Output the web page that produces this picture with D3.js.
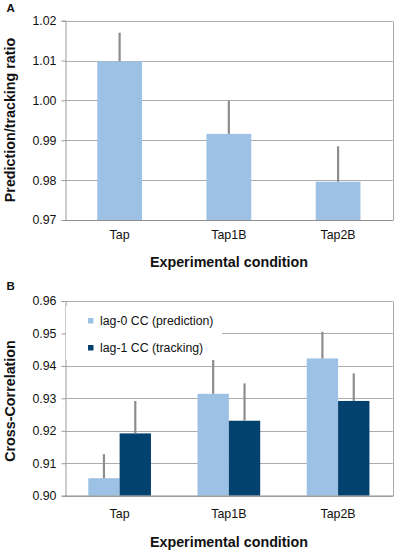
<!DOCTYPE html>
<html>
<head>
<meta charset="utf-8">
<script src="https://cdn.jsdelivr.net/npm/d3@7"></script>
<style>
  body { margin: 0; background: #fff; }
  svg { display: block; font-family: "Liberation Sans", Arial, Helvetica, sans-serif; }
</style>
</head>
<body>
<div id="chart"></div>
<script>
// datos
const categorias = ["Tap", "Tap1B", "Tap2B"];

// panel A
const ratioMedia = [1.0098, 0.9916, 0.9796];
const ratioError = [0.0072, 0.0083, 0.0089];
const ticksA = [0.97, 0.98, 0.99, 1.00, 1.01, 1.02];

// panel B
const series = ["lag-0 CC (prediction)", "lag-1 CC (tracking)"];
const lag0Media = [0.9054, 0.9314, 0.9423];
const lag0Error = [0.0074, 0.0104, 0.0082];
const lag1Media = [0.9192, 0.9231, 0.9292];
const lag1Error = [0.0100, 0.0115, 0.0085];
const ticksB = [0.90, 0.91, 0.92, 0.93, 0.94, 0.95, 0.96];

const colores = ["#9dc1e4", "#03426f"];
const grisError = "#8c8c8c";

const width = 397, height = 553;
const svg = d3.select("#chart").append("svg")
  .attr("width", width)
  .attr("height", height);

const x = d3.scaleBand().domain(categorias).range([65, 392.7]).padding(0);

function dibujarMarco(y, ticks, fmt) {
  const g = svg.append("g");
  const [x0, x1] = x.range();
  // rejilla
  g.selectAll(".grid")
    .data(ticks)
    .enter()
    .append("line")
    .attr("x1", x0).attr("x2", x1)
    .attr("y1", d => Math.round(y(d)) + 0.5)
    .attr("y2", d => Math.round(y(d)) + 0.5)
    .style("stroke", "#acacac");
  // borde
  const yTop = Math.round(y(ticks[ticks.length - 1])) + 0.5;
  const yBot = Math.round(y(ticks[0])) + 0.5;
  g.append("line").attr("x1", Math.round(x1) + 0.5).attr("x2", Math.round(x1) + 0.5)
    .attr("y1", yTop).attr("y2", yBot).style("stroke", "#a8a8a8");
  // eje y
  const eje = svg.append("g")
    .attr("transform", `translate(${Math.round(x0) + 0.5},0)`)
    .call(d3.axisLeft(y).tickValues(ticks).tickFormat(fmt).tickSize(4).tickPadding(5));
  eje.select(".domain").style("stroke", "#9a9a9a");
  eje.selectAll(".tick line").style("stroke", "#9a9a9a");
  eje.selectAll(".tick text")
    .style("font-family", "'Liberation Sans', Arial, sans-serif")
    .style("font-size", "12.4px")
    .style("fill", "#111");
  return g;
}

function etiquetasX(yBase, yTitulo) {
  svg.selectAll(null)
    .data(categorias)
    .enter()
    .append("text")
    .attr("x", d => x(d) + x.bandwidth() / 2)
    .attr("y", yBase)
    .attr("text-anchor", "middle")
    .style("font-size", "12.4px")
    .style("fill", "#111")
    .text(d => d);
  svg.append("text")
    .attr("x", 229)
    .attr("y", yTitulo)
    .attr("text-anchor", "middle")
    .style("font-size", "14.3px")
    .style("font-weight", "bold")
    .style("fill", "#111")
    .text("Experimental condition");
}

function tituloY(texto, cy) {
  svg.append("text")
    .attr("transform", `translate(14.5,${cy}) rotate(-90)`)
    .attr("text-anchor", "middle")
    .style("font-size", "14.3px")
    .style("font-weight", "bold")
    .style("fill", "#111")
    .text(texto);
}

function letra(l, yy) {
  svg.append("text")
    .attr("x", 6.5).attr("y", yy)
    .style("font-size", "11.5px")
    .style("font-weight", "bold")
    .style("fill", "#111")
    .text(l);
}

// ---------- Panel A ----------
const yA = d3.scaleLinear().domain([0.97, 1.02]).range([220, 20.7]);
dibujarMarco(yA, ticksA, d3.format(".2f"));

const anchoA = x.bandwidth() * 0.41;
const datosA = categorias.map((c, i) => ({ cat: c, v: ratioMedia[i], e: ratioError[i] }));

svg.selectAll(".barA")
  .data(datosA)
  .enter()
  .append("rect")
  .attr("class", "barA")
  .attr("x", d => x(d.cat) + x.bandwidth() / 2 - anchoA / 2)
  .attr("width", anchoA)
  .attr("y", d => yA(d.v))
  .attr("height", d => yA(0.97) - yA(d.v))
  .style("fill", colores[0]);

svg.selectAll(".errA")
  .data(datosA)
  .enter()
  .append("line")
  .attr("x1", d => x(d.cat) + x.bandwidth() / 2)
  .attr("x2", d => x(d.cat) + x.bandwidth() / 2)
  .attr("y1", d => yA(d.v))
  .attr("y2", d => yA(d.v + d.e))
  .style("stroke", grisError)
  .style("stroke-width", 2.2);

// linea base
svg.append("line").attr("x1", 65).attr("x2", 393).attr("y1", 220.5).attr("y2", 220.5).style("stroke", "#8e8e8e");

etiquetasX(239, 266.5);
tituloY("Prediction/tracking ratio", 120);
letra("A", 12);

// ---------- Panel B ----------
const yB = d3.scaleLinear().domain([0.90, 0.96]).range([495.7, 301]);
dibujarMarco(yB, ticksB, d3.format(".2f"));

const xSub = d3.scaleBand().domain([0, 1]).range([0, x.bandwidth() * 0.574]).padding(0);
const offB = x.bandwidth() / 2 - x.bandwidth() * 0.574 / 2;
const mediasB = [lag0Media, lag1Media];
const erroresB = [lag0Error, lag1Error];
const datosB = [];
categorias.forEach((c, i) => {
  [0, 1].forEach(s => datosB.push({ cat: c, s: s, v: mediasB[s][i], e: erroresB[s][i] }));
});

svg.selectAll(".barB")
  .data(datosB)
  .enter()
  .append("rect")
  .attr("class", "barB")
  .attr("x", d => x(d.cat) + offB + xSub(d.s))
  .attr("width", xSub.bandwidth())
  .attr("y", d => yB(d.v))
  .attr("height", d => yB(0.90) - yB(d.v))
  .style("fill", d => colores[d.s]);

svg.selectAll(".errB")
  .data(datosB)
  .enter()
  .append("line")
  .attr("x1", d => x(d.cat) + offB + xSub(d.s) + xSub.bandwidth() / 2)
  .attr("x2", d => x(d.cat) + offB + xSub(d.s) + xSub.bandwidth() / 2)
  .attr("y1", d => yB(d.v))
  .attr("y2", d => yB(d.v + d.e))
  .style("stroke", grisError)
  .style("stroke-width", 2.2);

svg.append("line").attr("x1", 65).attr("x2", 393).attr("y1", 496).attr("y2", 496).style("stroke", "#8e8e8e");

// leyenda
svg.append("rect").attr("x", 66).attr("y", 306).attr("width", 156).attr("height", 54).style("fill", "#fff");
const leyenda = svg.selectAll(".ley")
  .data(series)
  .enter()
  .append("g")
  .attr("transform", (d, i) => `translate(88,${318 + i * 27})`);
leyenda.append("rect").attr("width", 5.5).attr("height", 5.5).style("fill", (d, i) => colores[i]);
leyenda.append("text")
  .attr("x", 12).attr("y", 7)
  .style("font-size", "12.3px")
  .style("fill", "#111")
  .text(d => d);

etiquetasX(517.5, 546.5);
tituloY("Cross-Correlation", 401);
letra("B", 289.5);
</script>
</body>
</html>
